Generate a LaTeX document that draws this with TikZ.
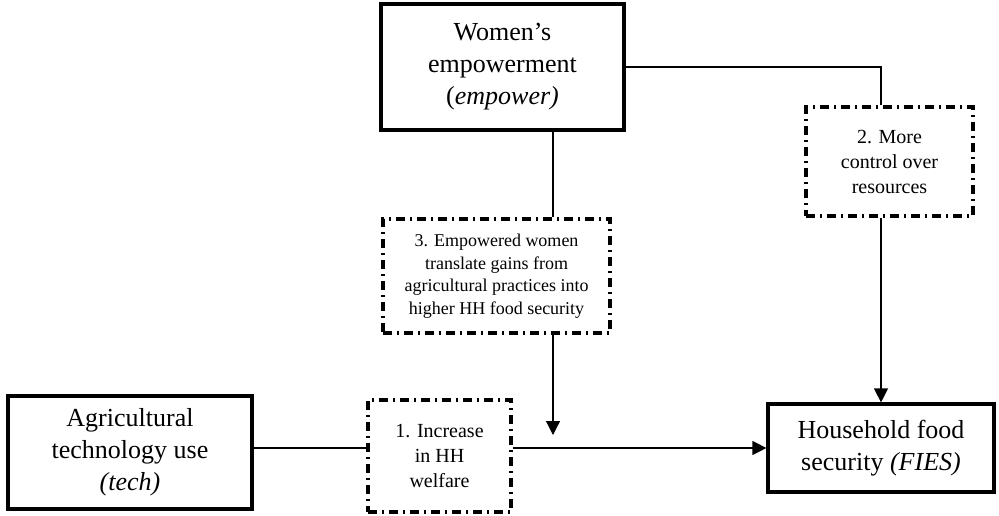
\documentclass[tikz,border=0pt]{standalone}
\usepackage{fontspec}
\setmainfont{Liberation Serif}
\usetikzlibrary{arrows.meta}

\begin{document}
\begin{tikzpicture}[x=0.5pt, y=-0.5pt,
  factor/.style={rectangle, draw, line width=1.6pt, align=center,
                 font=\fontsize{13}{16}\selectfont, inner sep=2pt},
  channel/.style={rectangle, draw, line width=1.6pt, align=center,
                  dash pattern=on 4.5pt off 2.5pt on 1pt off 2.5pt,
                  font=\fontsize{10}{12.5}\selectfont, inner sep=2pt},
  link/.style={line width=0.6pt},
  arrow/.style={-{Triangle[length=7pt, width=7pt]}, line width=0.6pt},
]
\useasboundingbox (0,0) rectangle (999,515);

% Factors
\node[factor, minimum width=121.5pt, minimum height=63pt] (emp) at (502.5,67)
  {Women's\\empowerment\\(\textit{empower)}};
\node[factor, minimum width=122pt, minimum height=56.5pt] (tech) at (130,452.5)
  {Agricultural\\technology use\\\textit{(tech)}};
\node[factor, minimum width=113pt, minimum height=44pt] (fies) at (881,448)
  {Household food\\security \textit{(FIES)}};

% Channels
\node[channel, minimum width=71.5pt, minimum height=56pt] (welfare) at (439.5,456)
  {1. Increase\\in HH\\welfare};
\node[channel, minimum width=83.5pt, minimum height=54.5pt] (control) at (889.5,161.5)
  {2. More\\control over\\resources};
\node[channel, minimum width=113.5pt, minimum height=57pt,
      font=\fontsize{9}{11.3}\selectfont] (gains) at (496.5,276)
  {3. Empowered women\\translate gains from\\agricultural practices into\\higher HH food security};

% Links
\coordinate (drop) at (553,435);
\draw[link] (tech.east |- fies.west) -- (welfare.west |- fies.west);
\draw[arrow] (welfare.east |- fies.west) -- (fies.west);
\draw[link] (emp.east) -| (fies.north |- control.north);
\draw[arrow] (fies.north |- control.south) -- (fies.north);
\draw[link] (emp.south -| drop) -- (gains.north -| drop);
\draw[arrow] (gains.south -| drop) -- (drop);
\end{tikzpicture}
\end{document}
